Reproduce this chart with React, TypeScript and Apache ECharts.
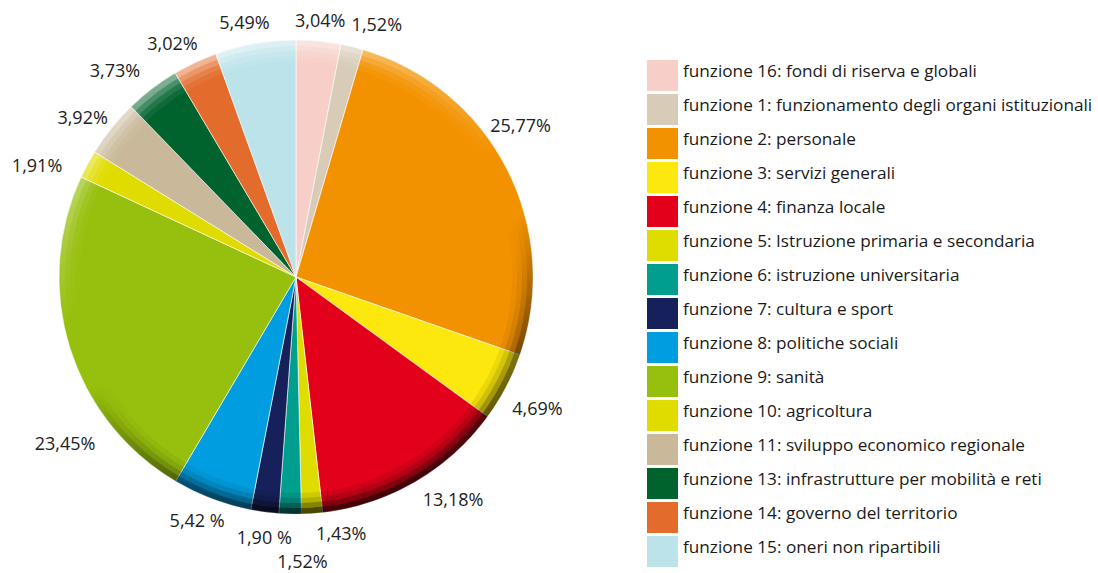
import React, { useEffect, useRef } from "react";
import * as echarts from "echarts";

const names = [
  "funzione 16: fondi di riserva e globali",
  "funzione 1: funzionamento degli organi istituzionali",
  "funzione 2: personale",
  "funzione 3: servizi generali",
  "funzione 4: finanza locale",
  "funzione 5: Istruzione primaria e secondaria",
  "funzione 6: istruzione universitaria",
  "funzione 7: cultura e sport",
  "funzione 8: politiche sociali",
  "funzione 9: sanità",
  "funzione 10: agricoltura",
  "funzione 11: sviluppo economico regionale",
  "funzione 13: infrastrutture per mobilità e reti",
  "funzione 14: governo del territorio",
  "funzione 15: oneri non ripartibili",
];

const values = [3.04, 1.52, 25.77, 4.69, 13.18, 1.43, 1.52, 1.9, 5.42, 23.45, 1.91, 3.92, 3.73, 3.02, 5.49];

const labels = [
  "3,04%", "1,52%", "25,77%", "4,69%", "13,18%", "1,43%", "1,52%", "1,90 %",
  "5,42 %", "23,45%", "1,91%", "3,92%", "3,73%", "3,02%", "5,49%",
];

const colors = [
  "#f7cfc8", "#d8ccb8", "#f39200", "#fce80c", "#e2001a", "#dfdc00", "#009e8f", "#16215b",
  "#009ee0", "#97bf0d", "#e0dc00", "#c9b99a", "#00622d", "#e36b2b", "#bde3ea",
];

// label nudges (dx, dy) to match hand-placed labels
const labelNudge: [number, number][] = [
  [-30, -6], [-9, -8], [-35, -37], [-12, 14], [-5, 4], [-2, 5], [43, 32], [34, 10],
  [23, 7], [45, 91], [-7, 8], [13, -2], [2, -7], [14, -6], [22, -7],
];

const FONT = "'Open Sans', sans-serif";
const CX = 296;
const CY = 277;
const R = 237;

function rimGradient(f: number) {
  return new echarts.graphic.LinearGradient(0.3, 0, 0.7, 1, [
    { offset: 0, color: `rgba(255,255,255,${0.55 * f})` },
    { offset: 0.42, color: "rgba(255,255,255,0)" },
    { offset: 0.55, color: "rgba(0,0,0,0)" },
    { offset: 0.8, color: `rgba(0,0,0,${0.5 * f})` },
    { offset: 1, color: `rgba(0,0,0,${0.75 * f})` },
  ]);
}

const rims: [number, number, number][] = [
  [231, R, 1],
  [226, 231, 0.6],
  [221, 226, 0.3],
  [216, 221, 0.12],
];

export default function App() {
  const ref = useRef<HTMLDivElement>(null);
  useEffect(() => {
    document.body.style.margin = "0";
    if (!ref.current) return;
    const chart = echarts.init(ref.current, undefined, { renderer: "svg" });
    chart.setOption({
      animation: false,
      backgroundColor: "#ffffff",
      legend: {
        orient: "vertical",
        left: 647,
        top: 60,
        padding: 0,
        icon: "rect",
        itemWidth: 31,
        itemHeight: 31,
        itemGap: 3,
        selectedMode: false,
        itemStyle: { borderWidth: 0 },
        formatter: (n: string) => `{t|${n}}\n{s| }`,
        textStyle: {
          fontFamily: FONT,
          fontSize: 17.2,
          color: "#1a1a1a",
          rich: {
            t: { fontFamily: FONT, fontSize: 17.2, lineHeight: 19, color: "#1a1a1a" },
            s: { fontSize: 2, lineHeight: 11 },
          },
        },
        data: names,
      },
      series: [
        {
          type: "pie",
          center: [CX, CY],
          radius: R,
          startAngle: 90,
          clockwise: true,
          avoidLabelOverlap: false,
          itemStyle: { borderColor: "#ffffff", borderWidth: 0.6 },
          label: {
            show: true,
            position: "outside",
            fontFamily: FONT,
            fontSize: 18,
            color: "#222222",
            formatter: (p: any) => labels[p.dataIndex],
          },
          labelLine: { show: false, length: 15, length2: 0 },
          labelLayout: (p: any) => ({ dx: labelNudge[p.dataIndex][0], dy: labelNudge[p.dataIndex][1] }),
          emphasis: { disabled: true },
          data: names.map((n, i) => ({
            name: n,
            value: values[i],
            itemStyle: { color: colors[i] },
          })),
        },
        ...rims.map(([r0, r1, f]) => ({
          type: "pie",
          center: [CX, CY],
          radius: [r0, r1],
          silent: true,
          label: { show: false },
          labelLine: { show: false },
          emphasis: { disabled: true },
          itemStyle: { color: rimGradient(f), borderWidth: 0 },
          data: [{ name: "rim", value: 1 }],
        })),
      ],
    });
    return () => chart.dispose();
  }, []);
  return <div ref={ref} style={{ width: 1098, height: 573 }} />;
}
